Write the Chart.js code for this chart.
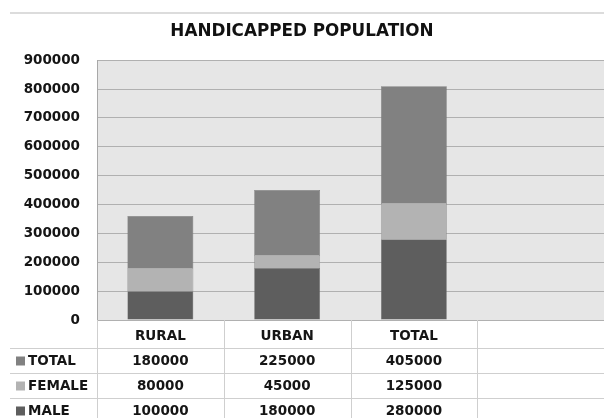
<!DOCTYPE html>
<html>
<head>
<meta charset="utf-8">
<script src="https://cdn.jsdelivr.net/npm/chart.js@4"></script>
<style>
  html, body { margin: 0; padding: 0; background: #fff; }
  #wrap { width: 604px; height: 418px; }
</style>
</head>
<body>
<div id="wrap"><canvas id="chart" width="604" height="418"></canvas></div>
<script>
const categories = ['RURAL', 'URBAN', 'TOTAL', '']
const male = [100000, 180000, 280000, null]
const female = [80000, 45000, 125000, null]
const total = [180000, 225000, 405000, null]
const seriesNames = ['MALE', 'FEMALE', 'TOTAL']
const seriesColors = ['#5e5e5e', '#b3b3b3', '#818181']
const yMax = 900000
const yStep = 100000

const FONT = '"DejaVu Sans", sans-serif'

// grey plot background + frame line at the top of the picture
const background = {
  id: 'background',
  beforeDraw(chart) {
    const { ctx, chartArea } = chart
    ctx.save()
    ctx.fillStyle = '#e6e6e6'
    ctx.fillRect(chartArea.left, chartArea.top, chartArea.right - chartArea.left, chartArea.bottom - chartArea.top)
    ctx.strokeStyle = '#dcdcdc'
    ctx.lineWidth = 2
    ctx.beginPath()
    ctx.moveTo(10, 13)
    ctx.lineTo(chart.width, 13)
    ctx.stroke()
    ctx.restore()
  }
}

// data table under the x axis, built from the same arrays
const dataTable = {
  id: 'dataTable',
  afterDraw(chart) {
    const { ctx, chartArea, scales: { x } } = chart
    const rowH = 25
    const top = chartArea.bottom
    const headerBottom = top + 28
    const rows = [
      { name: seriesNames[2], color: seriesColors[2], values: total },
      { name: seriesNames[1], color: seriesColors[1], values: female },
      { name: seriesNames[0], color: seriesColors[0], values: male }
    ]
    const bounds = [chartArea.left]
    for (let i = 0; i < categories.length - 1; i++) {
      bounds.push((x.getPixelForValue(i) + x.getPixelForValue(i + 1)) / 2)
    }
    ctx.save()
    ctx.strokeStyle = '#cfcfcf'
    ctx.lineWidth = 1
    ctx.beginPath()
    bounds.forEach(b => {
      ctx.moveTo(Math.round(b) + 0.5, top)
      ctx.lineTo(Math.round(b) + 0.5, chart.height)
    })
    for (let r = 0; r < rows.length; r++) {
      const y = Math.round(headerBottom + r * rowH) + 0.5
      ctx.moveTo(10, y)
      ctx.lineTo(chart.width, y)
    }
    ctx.stroke()

    ctx.font = 'bold 13.5px ' + FONT
    ctx.textBaseline = 'middle'
    rows.forEach((row, r) => {
      const cy = headerBottom + r * rowH + rowH / 2 + 1
      ctx.fillStyle = row.color
      ctx.fillRect(16, cy - 5, 9, 9)
      ctx.fillStyle = '#151515'
      ctx.textAlign = 'left'
      ctx.fillText(row.name, 28, cy)
      ctx.textAlign = 'center'
      row.values.forEach((v, i) => {
        if (v === null) return
        ctx.fillText(String(v), x.getPixelForValue(i), cy)
      })
    })
    ctx.restore()
  }
}

new Chart('chart', {
  type: 'bar',
  data: {
    labels: categories,
    datasets: seriesNames.map((name, i) => ({
      label: name,
      data: [male, female, total][i],
      backgroundColor: seriesColors[i],
      borderColor: '#6a6a6a',
      borderWidth: 0.5,
      categoryPercentage: 1,
      barPercentage: 0.52
    }))
  },
  options: {
    responsive: false,
    animation: false,
    layout: { padding: { left: 0, right: 0, top: 0, bottom: 70 } },
    plugins: {
      legend: { display: false },
      tooltip: { enabled: false },
      title: {
        display: true,
        text: 'HANDICAPPED POPULATION',
        color: '#111',
        font: { family: FONT, size: 16.8, weight: 'bold', lineHeight: 1.2 },
        padding: { top: 22, bottom: 18 }
      }
    },
    scales: {
      x: {
        stacked: true,
        grid: { display: false },
        border: { display: false },
        ticks: { color: '#151515', font: { family: FONT, size: 13.5, weight: 'bold' }, padding: 0 },
        afterFit(scale) { scale.height = 28 }
      },
      y: {
        stacked: true,
        min: 0,
        max: yMax,
        ticks: {
          stepSize: yStep,
          color: '#151515',
          font: { family: FONT, size: 13.5, weight: 'bold' },
          padding: 17,
          callback: v => String(v)
        },
        grid: { color: '#b0b0b0', lineWidth: 1, drawTicks: false },
        border: { color: '#a8a8a8' },
        afterFit(scale) { scale.width = 97 }
      }
    }
  },
  plugins: [background, dataTable]
})
</script>
</body>
</html>
